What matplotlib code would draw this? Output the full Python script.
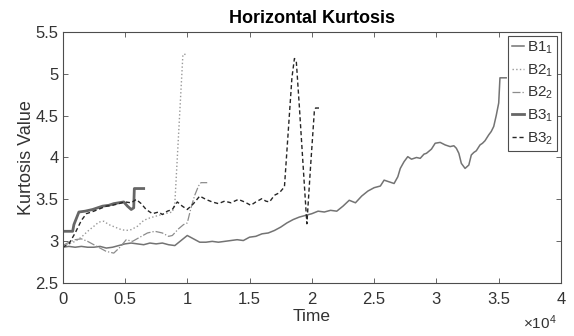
import numpy as np
import matplotlib
matplotlib.use("Agg")
import matplotlib.pyplot as plt
from matplotlib.ticker import FuncFormatter

plt.rcParams['font.family'] = ['Liberation Sans', 'DejaVu Sans']
plt.rcParams['mathtext.default'] = 'regular'

# time in units of 1e4 samples, kurtosis values per track
t_b11 = [0, 0.05, 0.1, 0.15, 0.2, 0.25, 0.3, 0.35, 0.4, 0.45, 0.5, 0.55, 0.6, 0.65, 0.7, 0.75,
         0.8, 0.85, 0.9, 0.95, 1.0, 1.05, 1.1, 1.15, 1.2, 1.25, 1.3, 1.35, 1.4, 1.45, 1.5, 1.55,
         1.6, 1.65, 1.7, 1.75, 1.8, 1.85, 1.9, 1.95, 2.0, 2.05, 2.1, 2.15, 2.2, 2.25, 2.3, 2.35,
         2.4, 2.45, 2.5, 2.55, 2.58, 2.62, 2.66, 2.69, 2.71, 2.74, 2.77, 2.8, 2.84, 2.87, 2.9,
         2.92, 2.96, 2.99, 3.03, 3.07, 3.11, 3.14, 3.16, 3.18, 3.2, 3.23, 3.26, 3.28, 3.3, 3.32,
         3.35, 3.37, 3.39, 3.42, 3.44, 3.46, 3.48, 3.5, 3.51, 3.53, 3.56]
k_b11 = [2.93, 2.94, 2.93, 2.94, 2.93, 2.93, 2.94, 2.92, 2.93, 2.95, 2.97, 2.98, 2.97, 2.96,
         2.98, 2.97, 2.98, 2.96, 2.95, 3.01, 3.07, 3.03, 2.99, 2.99, 3.0, 2.99, 3.0, 3.01, 3.02,
         3.01, 3.05, 3.06, 3.09, 3.1, 3.13, 3.17, 3.22, 3.26, 3.29, 3.31, 3.33, 3.36, 3.35, 3.37,
         3.36, 3.42, 3.49, 3.46, 3.54, 3.6, 3.64, 3.66, 3.73, 3.71, 3.69, 3.77, 3.87, 3.95, 4.01,
         3.98, 4.0, 3.99, 4.04, 4.05, 4.1, 4.17, 4.18, 4.15, 4.13, 4.14, 4.11, 4.05, 3.93, 3.87,
         3.91, 4.03, 4.06, 4.08, 4.15, 4.17, 4.2, 4.27, 4.31, 4.37, 4.5, 4.65, 4.95, 4.95, 4.95]

t_b21 = [0, 0.05, 0.1, 0.15, 0.2, 0.25, 0.29, 0.33, 0.37, 0.42, 0.47, 0.51, 0.55, 0.6, 0.65,
         0.7, 0.77, 0.82, 0.88, 0.9, 0.965, 1.0]
k_b21 = [2.95, 2.97, 3.0, 3.05, 3.12, 3.18, 3.23, 3.24, 3.2, 3.17, 3.14, 3.13, 3.14, 3.18,
         3.25, 3.28, 3.31, 3.33, 3.35, 3.45, 5.23, 5.23]

t_b22 = [0, 0.05, 0.1, 0.15, 0.2, 0.25, 0.3, 0.35, 0.41, 0.46, 0.51, 0.56, 0.62, 0.68, 0.74,
         0.8, 0.85, 0.88, 0.93, 0.97, 1.0, 1.03, 1.06, 1.09, 1.11, 1.16]
k_b22 = [2.95, 2.99, 3.02, 3.03, 3.0, 2.96, 2.92, 2.88, 2.86, 2.93, 3.02, 3.0, 3.05, 3.1,
         3.12, 3.1, 3.06, 3.07, 3.15, 3.2, 3.22, 3.4, 3.55, 3.66, 3.7, 3.7]

t_b31 = [0, 0.08, 0.09, 0.13, 0.18, 0.24, 0.28, 0.32, 0.37, 0.41, 0.45, 0.49, 0.52, 0.55,
         0.57, 0.575, 0.65]
k_b31 = [3.12, 3.12, 3.2, 3.35, 3.36, 3.38, 3.4, 3.42, 3.43, 3.45, 3.46, 3.47, 3.42, 3.38,
         3.4, 3.63, 3.63]

t_b32 = [0, 0.05, 0.1, 0.15, 0.19, 0.25, 0.3, 0.35, 0.4, 0.45, 0.5, 0.55, 0.59, 0.63, 0.67,
         0.72, 0.77, 0.8, 0.84, 0.88, 0.92, 0.96, 1.0, 1.05, 1.1, 1.15, 1.2, 1.25, 1.3, 1.35,
         1.41, 1.46, 1.51, 1.55, 1.6, 1.63, 1.66, 1.7, 1.74, 1.78, 1.81, 1.84, 1.86, 1.875, 1.9,
         1.93, 1.96, 1.99, 2.02, 2.03, 2.07]
k_b32 = [2.93, 2.97, 3.1, 3.25, 3.33, 3.36, 3.39, 3.42, 3.43, 3.45, 3.47, 3.46, 3.5, 3.45,
         3.38, 3.33, 3.35, 3.32, 3.36, 3.38, 3.47, 3.42, 3.38, 3.45, 3.54, 3.5, 3.47, 3.45, 3.48,
         3.46, 3.5, 3.47, 3.43, 3.47, 3.51, 3.48, 3.47, 3.55, 3.58, 3.65, 4.3, 4.95, 5.18, 5.15,
         4.6, 3.9, 3.21, 3.9, 4.55, 4.59, 4.59]

series = [
    (t_b11, k_b11, 'B1$_1$', '-', '0.45', 1.1),
    (t_b21, k_b21, 'B2$_1$', ':', '0.6', 1.0),
    (t_b22, k_b22, 'B2$_2$', '-.', '0.55', 0.9),
    (t_b31, k_b31, 'B3$_1$', '-', '0.4', 2.0),
    (t_b32, k_b32, 'B3$_2$', (0, (3, 2)), '0.15', 1.0),
]

fig = plt.figure(figsize=(5.74, 3.36), dpi=100)
ax = fig.add_axes([62.7 / 574, 1 - 283.3 / 336, (561 - 62.7) / 574, (283.3 - 31.7) / 336])

for t, k, name, ls, col, lw in series:
    ax.plot(np.array(t) * 1e4, k, linestyle=ls, color=col, linewidth=lw, label=name)

ax.set_xlim(0, 4e4)
ax.set_ylim(2.5, 5.5)
ax.set_xticks(np.arange(0, 4.01e4, 0.5e4))
ax.set_yticks(np.arange(2.5, 5.51, 0.5))
ax.xaxis.set_major_formatter(FuncFormatter(lambda v, p: '%g' % (v / 1e4)))
ax.yaxis.set_major_formatter(FuncFormatter(lambda v, p: '%g' % v))
ax.annotate(r'$\times$10$^4$', xy=(1, 0), xycoords='axes fraction', xytext=(-3, -35),
            textcoords='offset points', ha='right', va='bottom', fontsize=11, color='0.2')

for sp in ax.spines.values():
    sp.set_color('0.3')
    sp.set_linewidth(0.8)
ax.tick_params(direction='in', top=True, right=True, length=3.5, width=0.6,
               colors='0.3', labelcolor='0.2', labelsize=12)
ax.tick_params(axis='x', pad=6)
ax.tick_params(axis='y', pad=3)

ax.set_title('Horizontal Kurtosis', fontsize=13, fontweight='bold', pad=6)
ax.set_xlabel('Time', fontsize=12.5, color='0.2', labelpad=2)
ax.set_ylabel('Kurtosis Value', fontsize=13, color='0.2', labelpad=0)

leg = ax.legend(loc='upper right', fontsize=11, handlelength=0.8, handletextpad=0.2,
                borderpad=0.25, labelspacing=0.42, fancybox=False, framealpha=1,
                edgecolor='0.3', borderaxespad=0.25)
leg.get_frame().set_linewidth(0.8)
for txt in leg.get_texts():
    txt.set_color('0.2')

fig.savefig('out.png', dpi=100)
